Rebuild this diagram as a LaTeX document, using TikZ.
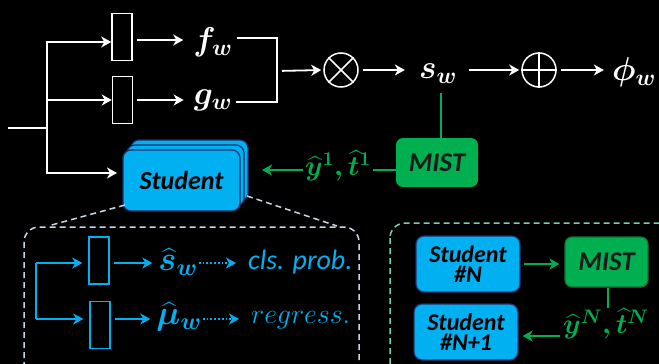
\RequirePackage{fix-cm}
\documentclass[tikz,border=0pt]{standalone}
\usepackage{amsmath,bm}
\usepackage{fontspec}
\setmainfont{Carlito}
\usetikzlibrary{arrows.meta}
\definecolor{sblue}{HTML}{00B0F0}
\definecolor{mgreen}{HTML}{00B050}
\definecolor{dblue}{HTML}{1F3070}
\definecolor{dgreen}{HTML}{1E6B3A}
\definecolor{dashc}{HTML}{C8D4E6}
\definecolor{tealc}{HTML}{6FD2B2}
\definecolor{mtext}{HTML}{1A1A1A}
\tikzset{
  arr/.style={draw=white,line width=1.8pt,-{Stealth[length=10pt,width=11pt,inset=3pt]}},
  wline/.style={draw=white,line width=1.8pt},
  garr/.style={draw=mgreen,line width=1.8pt,-{Stealth[length=10pt,width=11pt,inset=3pt]}},
  gline/.style={draw=mgreen,line width=1.8pt},
  barr/.style={draw=sblue,line width=1.8pt,-{Stealth[length=10pt,width=11pt,inset=3pt]}},
  bline/.style={draw=sblue,line width=1.8pt},
  dotarr/.style={draw=sblue,line width=1.8pt,dotted,-{Stealth[length=10pt,width=11pt,inset=3pt]}},
  wrect/.style={draw=white,line width=1.5pt,minimum width=20pt,minimum height=47pt,inner sep=0pt},
  brect/.style={draw=sblue,line width=1.5pt,minimum width=20pt,minimum height=47pt,inner sep=0pt},
  wmath/.style={text=white,font=\fontsize{33}{35}\selectfont,inner sep=0pt},
  bmath/.style={text=sblue,font=\fontsize{34}{36}\selectfont,inner sep=0pt},
  gmath/.style={text=mgreen,font=\fontsize{28}{30}\selectfont,inner sep=0pt},
  stud/.style={draw=dblue,line width=1.2pt,fill=sblue,rounded corners=8pt,minimum width=117pt,minimum height=61pt,inner sep=0pt},
  studn/.style={draw=dblue,line width=1.2pt,fill=sblue,rounded corners=8pt,minimum width=104pt,minimum height=56pt,inner sep=0pt,align=center,font=\fontsize{24}{25}\selectfont\bfseries\itshape,text=black},
  mist/.style={fill=mgreen,rounded corners=7pt,minimum width=82pt,minimum height=49pt,inner sep=0pt,font=\fontsize{27}{28}\selectfont\bfseries\itshape,text=mtext},
  opc/.style={circle,draw=white,line width=1.5pt,minimum size=34pt,inner sep=0pt},
  btxt/.style={text=sblue,font=\fontsize{28}{30}\selectfont\itshape,anchor=west,inner sep=0pt}
}
\begin{document}
\begin{tikzpicture}[x=1pt,y=-1pt]
\fill[black] (0,0) rectangle (659,364);
\useasboundingbox (0,0) rectangle (659,364);

% ---- top row
\coordinate (in) at (8,128);
\coordinate (j) at (47,128);
\coordinate (e3) at (117,173);
\node[wrect] (r1) at (122,37) {};
\node[wrect] (r2) at (122.5,100) {};
\node[wmath] (fw) at (213,42) {$\bm{f_w}$};
\node[wmath] (gw) at (213,100) {$\bm{g_w}$};
\coordinate (jx) at (277,71);
\node[opc] (ot) at (341,70) {};
\draw[white,line width=1.5pt] (ot.north west) -- (ot.south east) (ot.north east) -- (ot.south west);
\node[wmath] (sw) at (438,74) {$\bm{s_w}$};
\node[opc] (op) at (539,70) {};
\draw[white,line width=1.5pt] (op.north) -- (op.south) (op.west) -- (op.east);
\node[wmath] (phi) at (634,72) {$\bm{\phi_w}$};

\draw[wline] (in) -- (j);
\draw[arr] (j) |- ([yshift=-5pt]r1.west);
\draw[arr] (j) |- (r2.west);
\draw[arr] (j) |- (e3);
\draw[arr,shorten <=4pt] (r1.east |- 0,40) -- ([xshift=-10pt]fw.west |- 0,40);
\draw[arr,shorten <=4pt] (r2.east |- 0,100) -- ([xshift=-10pt]gw.west |- 0,100);
\draw[wline] ([xshift=4pt]fw.east |- 0,38) -| (jx) |- ([xshift=4pt]gw.east |- 0,102);
\draw[arr,shorten <=5pt,shorten >=2pt] (jx) -- (ot.west);
\draw[arr,shorten <=4pt,shorten >=14pt] (ot.east) -- (sw.west |- ot.east);
\draw[arr,shorten <=12pt,shorten >=2pt] (sw.east |- op.west) -- (op.west);
\draw[arr,shorten <=4pt,shorten >=8pt] (op.east) -- (phi.west |- op.east);

% ---- student stack
\node[stud] (s3) at (189.5,170.5) {};
\node[stud] (s2) at (185.5,175.5) {};
\node[stud,font=\fontsize{26}{28}\selectfont\bfseries\itshape,text=black] (stu) at (181.5,180.5) {Student};

\node[mist] (m1) at (437,162.5) {MIST};
\coordinate (swb) at (441,93);
\draw[gline] (swb) -- (m1.north -| swb);
\node[gmath] (l1) at (338,166) {$\bm{\widehat{y}^1,\widehat{t}^1}$};
\coordinate (t1) at (262,170);
\draw[gline] (m1.west |- 0,170) -- ([xshift=2pt]l1.east |- 0,170);
\draw[garr] ([xshift=-2pt]l1.west |- 0,170) -- (t1);

% ---- zoom box
\coordinate (z1) at (125,205);
\coordinate (z2) at (48,226);
\coordinate (z3) at (247,196);
\coordinate (z4) at (337,226);
\draw[dashc,line width=1.5pt,dash pattern=on 6pt off 4pt] (z1) -- (z2) (z3) -- (z4);
\draw[dashc,line width=1.5pt,dash pattern=on 6pt off 4pt,rounded corners=15pt] (24,227) rectangle (359,385);

\coordinate (b1) at (36,263);
\coordinate (b2) at (36,319);
\node[brect] (ir1) at (99,260.5) {};
\node[brect] (ir2) at (100,325) {};
\node[bmath] (sh) at (178,262) {$\bm{\widehat{s}_w}$};
\node[bmath] (mh) at (179,317) {$\bm{\widehat{\mu}_w}$};
\node[btxt] (cls) at (248,262) {cls. prob.};
\node[btxt] (reg) at (251,320) {$regress.$};
\draw[bline] (b1) -- (b2);
\draw[barr,shorten >=6pt] (b1) -- (ir1.west |- b1);
\draw[barr,shorten >=6pt] (b2) -- (ir2.west |- b2);
\draw[barr,shorten <=4pt,shorten >=6pt] (ir1.east |- b1) -- (sh.west |- b1);
\draw[barr,shorten <=4pt,shorten >=6pt] (ir2.east |- b2) -- (mh.west |- b2);
\draw[dotarr,shorten <=1pt,shorten >=12pt] (sh.east |- b1) -- (cls.west |- b1);
\draw[dotarr,shorten <=1pt,shorten >=12pt] (mh.east |- b2) -- (reg.west |- b2);

% ---- right box
\draw[tealc,line width=1.5pt,dash pattern=on 6pt off 4pt,rounded corners=15pt] (390,223) rectangle (675,385);
\node[studn] (sn) at (468,264) {Student\\[-5pt]\#N};
\node[studn] (sn1) at (466,332) {Student\\[-5pt]\#N+1};
\node[mist,draw=dgreen,line width=1.2pt,minimum width=83pt,minimum height=50pt] (m2) at (606.5,262) {MIST};
\coordinate (t2) at (608,308);
\node[gmath] (l2) at (606,324) {$\bm{\widehat{y}^N,\widehat{t}^N}$};
\draw[garr,shorten <=3pt,shorten >=5pt] (sn.east) -- (m2.west |- sn.east);
\draw[gline] (m2.south -| t2) -- (t2);
\draw[garr,shorten <=3pt,shorten >=4pt] (l2.west |- 0,336) -- (sn1.east |- 0,336);
\end{tikzpicture}
\end{document}
